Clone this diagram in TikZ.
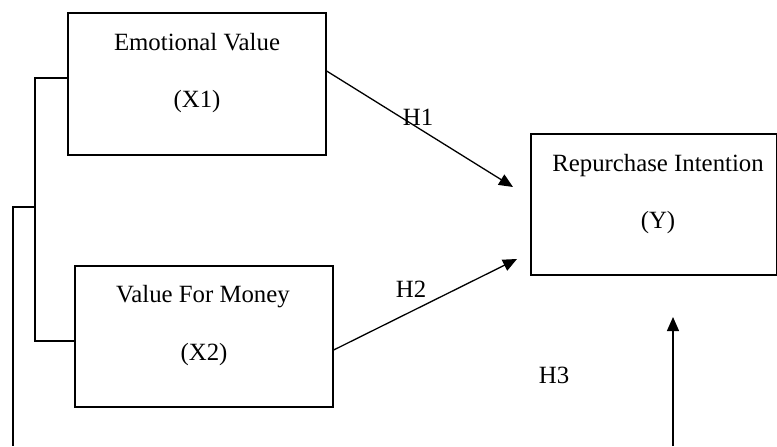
\documentclass[tikz,border=0pt]{standalone}
\usepackage{fontspec}
\setmainfont{Liberation Serif}
\usetikzlibrary{arrows.meta,calc}
\begin{document}
\begin{tikzpicture}[x=0.5pt,y=-0.5pt,
  box/.style={draw, line width=0.65pt, rectangle, inner sep=0pt},
  lbl/.style={font=\fontsize{12.4}{14}\selectfont, inner sep=0pt, anchor=base},
  conn/.style={line width=0.65pt},
  arr/.style={conn, -{Triangle[length=7pt,width=6pt]}}]
\useasboundingbox (0,0) rectangle (777,446);
% boxes
\node[box, minimum width=129pt, minimum height=71pt] (x1) at (197,84) {};
\node[box, minimum width=129pt, minimum height=70.5pt] (x2) at (204,336.5) {};
\node[box, minimum width=123pt, minimum height=70.5pt] (y) at (654,204.5) {};
% texts
\node[lbl] (x1a) at (197,50) {Emotional Value};
\node[lbl] (x1b) at (197,107) {(X1)};
\node[lbl] (x2a) at (203,302) {Value For Money};
\node[lbl] (x2b) at (204,360) {(X2)};
\node[lbl] (ya) at (658,171) {Repurchase Intention};
\node[lbl] (yb) at (658,228) {(Y)};
\node[lbl] (h1) at (418,125) {H1};
\node[lbl] (h2) at (411,297) {H2};
\node[lbl] (h3) at (554,383) {H3};
% coordinates
\coordinate (t1) at (513,187);
\coordinate (t2) at (517,259);
\coordinate (t3) at (673,317);
\coordinate (bl) at (13,446);
\coordinate (br) at (673,446);
\coordinate (jn) at (35,207);
% connectors
\draw[arr] ([yshift=6.5pt]x1.east) -- (t1);
\draw[arr] ([yshift=-6.75pt]x2.east) -- (t2);
\draw[conn] ([yshift=3pt]x1.west) -| (35,341) -- ([yshift=-2.25pt]x2.west);
\draw[conn] (jn) -| (bl);
\draw[arr] (br) -- (t3);
\end{tikzpicture}
\end{document}
